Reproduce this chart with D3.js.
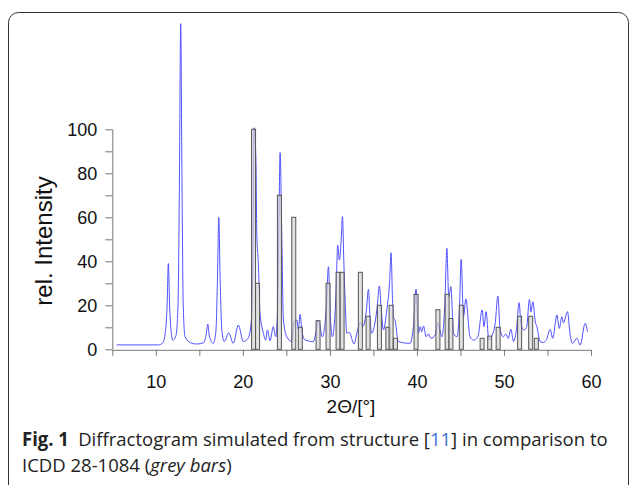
<!DOCTYPE html>
<html>
<head>
<meta charset="utf-8">
<script src="https://cdn.jsdelivr.net/npm/d3@7"></script>
<style>
  body { margin: 0; background: #fff; }
  svg { display: block; }
</style>
</head>
<body>
<svg id="chart" width="629" height="485"></svg>
<script>
// simulated diffractogram: [2theta, intensity]
var simulated = [
  [5.5,2],[10.3,2],[10.8,3],[11.1,8],[11.3,20],[11.44,39],[11.6,18],[11.94,4.2],[12.3,6],[12.55,20],
  [12.7,70],[12.86,148],[13.0,80],[13.15,20],[13.36,5.7],[14.0,3],[14.7,2.4],[15.5,3],[15.8,7],[15.97,11.5],
  [16.15,6],[16.6,2.7],[16.9,8],[17.1,35],[17.23,60],[17.4,30],[17.6,8],[17.87,3.5],[18.38,7.5],[18.9,2.7],
  [19.48,11],[20.06,3.5],[20.6,5],[21.0,14],[21.15,40],[21.29,100.7],[21.5,86],[21.6,52.7],[21.78,39],[21.97,16.5],
  [22.36,7.3],[22.63,4.2],[22.82,8.8],[23.13,3.9],[23.5,10.3],[23.78,5.7],[24.0,20],[24.15,60],[24.28,89.4],[24.47,52.7],
  [24.66,13.3],[25.05,5.7],[25.62,3.5],[25.85,12],[26.2,13.3],[26.38,9],[26.57,15.9],[26.8,8],[27.15,4.2],[28.1,3.5],
  [28.3,5.7],[28.68,13.3],[29.14,5.7],[29.6,20],[29.83,37.5],[30.05,15],[30.29,5.7],[30.7,25],[30.9,47.4],[31.09,40.6],
  [31.3,50],[31.45,60.3],[31.6,40],[31.75,22.4],[31.94,7.3],[32.1,7.6],[32.24,7.6],[32.78,2.4],[33.09,7.3],[33.5,12],
  [33.78,10.3],[34.2,18],[34.43,27.3],[34.6,15],[34.8,7.3],[35.4,18],[35.69,28.8],[35.9,18],[36.15,8.8],[36.54,17.9],
  [36.85,30],[37.03,43.9],[37.2,22],[37.3,14.8],[37.5,13],[37.87,3.5],[39.2,2.7],[39.6,10.3],[39.9,27.3],[40.17,7.3],
  [40.37,10.3],[40.55,8],[40.75,10.6],[41.06,5.7],[41.3,7],[41.6,5],[42.1,6.5],[42.4,12],[42.86,5.7],[43.2,20],
  [43.44,45.9],[43.65,23.9],[43.9,28.5],[44.2,7.3],[44.6,5.7],[44.9,20],[45.08,40.9],[45.35,14.8],[45.62,22.9],[46.1,5.7],
  [46.5,4.2],[47.0,5.7],[47.5,17.9],[47.7,10.3],[47.95,17.1],[48.26,4.2],[48.6,6],[49.0,12],[49.3,24.2],[49.56,8.8],
  [49.94,5.7],[50.2,7],[50.5,5],[50.8,9.1],[51.1,3.5],[51.4,8],[51.75,21.2],[51.94,11.8],[52.3,8.8],[52.6,10],
  [52.93,22.7],[53.1,17],[53.32,21.6],[53.6,12.5],[53.78,10.3],[54.16,3.5],[54.54,3.1],[54.9,4.5],[55.3,9.1],[55.6,5],
  [56.08,15.6],[56.35,9.5],[56.66,14.8],[56.84,12],[57.3,17.1],[57.6,6.5],[57.87,2.7],[58.38,5],[58.76,2],[59.33,11.8],
  [59.6,8]
]

// ICDD 28-1084 reflections (grey bars)
var barPos = [21.23,21.69,24.2,25.85,26.6,28.64,29.79,30.94,31.4,33.5,34.39,35.69,36.66,37.03,37.53,
              39.9,42.41,43.47,43.9,45.1,47.49,48.36,49.33,51.8,53.07,53.72]
var barVal = [100,30,70,60,10,13,30,35,35,35,15,20,10,20,5,
              25,18,25,14,20,5,6,10,15,15,5]

var xTicks = [5,10,15,20,25,30,35,40,45,50,55,60]
var xLabels = [10,20,30,40,50,60]
var yTicks = [0,10,20,30,40,50,60,70,80,90,100]
var yLabels = [0,20,40,60,80,100]

var svg = d3.select('#chart')

// rounded frame
svg.append('rect')
  .attr('x', 8.5).attr('y', 12.5)
  .attr('width', 620).attr('height', 490)
  .attr('rx', 10)
  .attr('fill', 'none').attr('stroke', '#333').attr('stroke-width', 1)

var x = d3.scaleLinear().domain([5, 60]).range([112.3, 591])
var y = d3.scaleLinear().domain([0, 100]).range([349.3, 129.3])

// simulated line
var line = d3.line()
  .x(function(d){ return x(d[0]) })
  .y(function(d){ return y(d[1]) })
  .curve(d3.curveMonotoneX)

svg.append('path')
  .datum(simulated)
  .attr('d', line)
  .attr('fill', 'none')
  .attr('stroke', '#5050ff')
  .attr('stroke-width', 1)

// bars on top
var bw = 0.23
svg.append('g').selectAll('rect')
  .data(barPos)
  .enter().append('rect')
  .attr('x', function(d){ return x(d - bw) })
  .attr('width', function(d){ return x(d + bw) - x(d - bw) })
  .attr('y', function(d, i){ return y(barVal[i]) })
  .attr('height', function(d, i){ return y(0) - y(barVal[i]) })
  .attr('fill', 'rgba(210,210,210,0.65)')
  .attr('stroke', '#555')
  .attr('stroke-width', 1)

// axes
var xAxis = d3.axisBottom(x).tickValues(xTicks).tickSize(6).tickPadding(19)
  .tickFormat(function(d){ return xLabels.indexOf(d) >= 0 ? d : '' })
var gx = svg.append('g').attr('transform', 'translate(0,' + 349.8 + ')').call(xAxis)

var yAxis = d3.axisLeft(y).tickValues(yTicks).tickSize(7).tickPadding(8)
  .tickFormat(function(d){ return yLabels.indexOf(d) >= 0 ? d : '' })
var gy = svg.append('g').attr('transform', 'translate(' + 112.3 + ',0)').call(yAxis)

;[gx, gy].forEach(function(g){
  g.select('.domain').attr('stroke', '#777')
  g.selectAll('.tick line').attr('stroke', '#777')
  g.selectAll('.tick text')
    .attr('fill', '#111')
    .style('font-family', '"Liberation Sans", Arial, sans-serif')
    .style('font-size', '18px')
})
gx.select('.domain').attr('d', 'M' + x(5) + ',0.5H' + x(60))
gy.select('.domain').attr('d', 'M0.5,' + y(0) + 'V' + y(100))

// axis titles
svg.append('text')
  .attr('transform', 'translate(52,241) rotate(-90)')
  .attr('text-anchor', 'middle')
  .style('font-family', '"Liberation Sans", Arial, sans-serif')
  .style('font-size', '24px')
  .attr('fill', '#111')
  .text('rel. Intensity')

svg.append('text')
  .attr('x', 351).attr('y', 413)
  .attr('text-anchor', 'middle')
  .style('font-family', '"Liberation Sans", Arial, sans-serif')
  .style('font-size', '19px')
  .attr('fill', '#111')
  .text('2Θ/[°]')

// caption, squeezed horizontally to the width of the original
var cap = svg.append('g')
  .style('font-family', '"Open Sans", "Noto Sans", sans-serif')
  .style('font-size', '19px')
  .attr('fill', '#222')

var t1 = cap.append('text')
t1.append('tspan').style('font-weight', 'bold').text('Fig. 1')
t1.append('tspan').text('\u2002Diffractogram simulated from structure [')
t1.append('tspan').attr('fill', '#3b6fd6').text('11')
t1.append('tspan').text('] in comparison to')

var t2 = cap.append('text')
t2.append('tspan').text('ICDD 28-1084 (')
t2.append('tspan').style('font-style', 'italic').text('grey bars')
t2.append('tspan').text(')')

var s = 586 / t1.node().getComputedTextLength()
t1.attr('transform', 'translate(22,446) scale(' + s + ',1)')
t2.attr('transform', 'translate(22,472) scale(' + s + ',1)')
</script>
</body>
</html>
